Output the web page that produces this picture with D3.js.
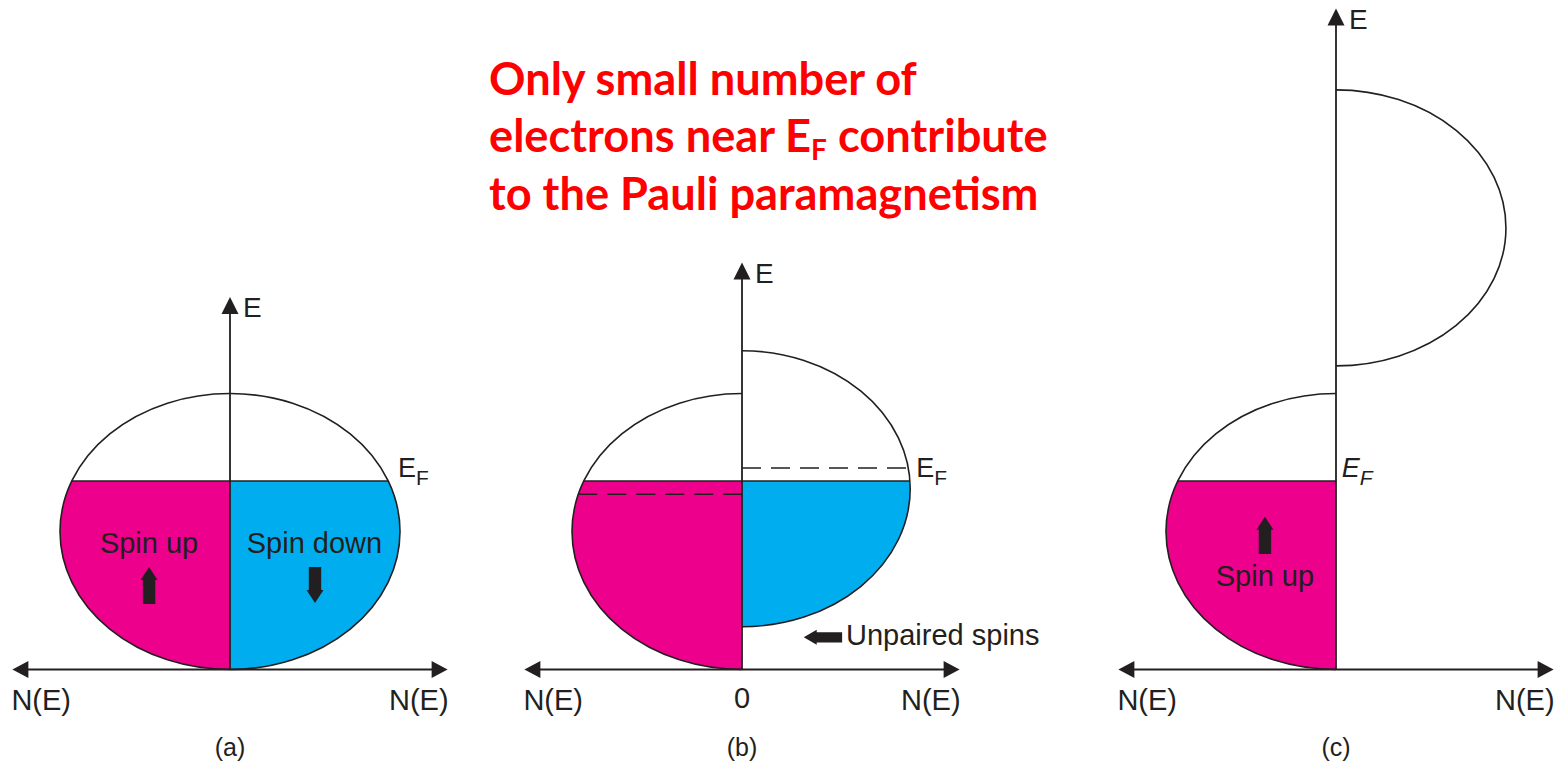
<!DOCTYPE html>
<html>
<head>
<meta charset="utf-8">
<script src="https://cdn.jsdelivr.net/npm/d3@7"></script>
<style>
  html, body { margin: 0; padding: 0; background: #ffffff; }
  svg { display: block; }
</style>
</head>
<body>
<script>
// ---------------- data (energy E and density N(E) in arbitrary units) ----------------
const panelLabels   = ["(a)", "(b)", "(c)"];
const fermiLevel    = [1.366, 1.366, 1.366];   // E_F
const upBandCenter  = [1.00, 1.00, 1.00];      // spin-up band centre energy
const downBandCenter= [1.00, 1.31, 3.20];      // spin-down band centre energy
const bandHalfWidth = [1.00, 1.00, 1.00];      // half of band energy span
const upBandPeak    = [1.00, 1.00, 1.00];      // max N(E) spin up
const downBandPeak  = [1.00, 0.99, 1.00];      // max N(E) spin down
const energyAxisTop = [2.70, 2.95, 4.79];
const dosAxisExtent = 1.28;
// shifted (unsplit) Fermi levels drawn dashed in panel (b)
const dashedUpLevel   = 1.27;
const dashedDownLevel = 1.46;

const titleLines = ["Only small number of", "electrons near E|F| contribute", "to the Pauli paramagnetism"];

// ---------------- layout ----------------
const W = 1561, H = 765;
const panelCenterX = [230, 742, 1336];
const unitX = 170, unitY = 138, baseY = 669.5;
const ink = "#231f20", magenta = "#ec008c", cyan = "#00aeef";
const labelFont = "'Liberation Sans', Arial, sans-serif";

const svg = d3.select("body").append("svg").attr("width", W).attr("height", H);
const defs = svg.append("defs");

const yScale = d3.scaleLinear().domain([0, 1]).range([baseY, baseY - unitY]);

function halfWidthAt(E, c, h, peak) {
  const t = (E - c) / h;
  return Math.abs(t) < 1 ? peak * Math.sqrt(1 - t * t) : 0;
}

function bandPath(x, side, c, h, peak, close) {
  const x0 = x(0), yT = yScale(c + h), yB = yScale(c - h);
  const rx = Math.abs(x(peak) - x(0)), ry = yScale(c - h) - yScale(c);
  const sweep = side > 0 ? 1 : 0;
  return `M${x0},${yT} A${rx},${ry} 0 0 ${sweep} ${x0},${yB}` + (close ? "Z" : "");
}

function blockArrow(dir, cx, cy, len) {
  const hw = 8.5, sw = 6.2, hl = 13;
  let pts;
  if (dir === "up") {
    const t = cy - len / 2, b = cy + len / 2;
    pts = [[cx, t], [cx + hw, t + hl], [cx + sw, t + hl], [cx + sw, b], [cx - sw, b], [cx - sw, t + hl], [cx - hw, t + hl]];
  } else if (dir === "down") {
    const t = cy - len / 2, b = cy + len / 2;
    pts = [[cx, b], [cx + hw, b - hl], [cx + sw, b - hl], [cx + sw, t], [cx - sw, t], [cx - sw, b - hl], [cx - hw, b - hl]];
  } else {
    const l = cx - len / 2, r = cx + len / 2;
    pts = [[l, cy], [l + hl, cy - hw + 1], [l + hl, cy - sw + 1], [r, cy - sw + 1], [r, cy + sw - 1], [l + hl, cy + sw - 1], [l + hl, cy + hw - 1]];
  }
  return "M" + pts.map(p => p.join(",")).join("L") + "Z";
}

panelLabels.forEach((lab, i) => {
  const cx = panelCenterX[i];
  const x = d3.scaleLinear().domain([-1, 1]).range([cx - unitX, cx + unitX]);
  const g = svg.append("g");
  const EF = fermiLevel[i];
  const h = bandHalfWidth[i];

  const clipId = "clip" + i;
  defs.append("clipPath").attr("id", clipId).append("rect")
    .attr("x", x(-dosAxisExtent)).attr("width", x(dosAxisExtent) - x(-dosAxisExtent))
    .attr("y", yScale(EF)).attr("height", yScale(0) - yScale(EF) + 2);

  const bands = [
    { side: -1, c: upBandCenter[i], peak: upBandPeak[i], fill: magenta },
    { side: 1, c: downBandCenter[i], peak: downBandPeak[i], fill: cyan }
  ];
  const xs = side => v => x(side * v);

  g.selectAll("path.fill").data(bands).join("path").attr("class", "fill")
    .attr("d", d => bandPath(xs(d.side), d.side, d.c, h, d.peak, true))
    .attr("fill", d => d.fill).attr("clip-path", `url(#${clipId})`);

  g.selectAll("path.outline").data(bands).join("path").attr("class", "outline")
    .attr("d", d => bandPath(xs(d.side), d.side, d.c, h, d.peak, false))
    .attr("fill", "none").attr("stroke", ink).attr("stroke-width", 1.6);

  const wl = halfWidthAt(EF, bands[0].c, h, bands[0].peak);
  const wr = halfWidthAt(EF, bands[1].c, h, bands[1].peak);
  g.append("line")
    .attr("x1", x(-wl)).attr("x2", x(wr))
    .attr("y1", yScale(EF)).attr("y2", yScale(EF))
    .attr("stroke", ink).attr("stroke-width", 1.6);

  if (i === 1) {
    const wdu = halfWidthAt(dashedUpLevel, bands[0].c, h, bands[0].peak);
    const wdd = halfWidthAt(dashedDownLevel, bands[1].c, h, bands[1].peak);
    g.append("line").attr("x1", x(-wdu)).attr("x2", x(0))
      .attr("y1", yScale(dashedUpLevel)).attr("y2", yScale(dashedUpLevel))
      .attr("stroke", ink).attr("stroke-width", 1.6).attr("stroke-dasharray", "19,10");
    g.append("line").attr("x1", x(0)).attr("x2", x(wdd))
      .attr("y1", yScale(dashedDownLevel)).attr("y2", yScale(dashedDownLevel))
      .attr("stroke", ink).attr("stroke-width", 1.6).attr("stroke-dasharray", "19,10");
  }

  const axL = x(-dosAxisExtent), axR = x(dosAxisExtent), ax0 = x(0);
  const yTop = yScale(energyAxisTop[i]), y0 = yScale(0);
  g.append("line").attr("x1", axL + 10).attr("x2", axR - 10).attr("y1", y0).attr("y2", y0)
    .attr("stroke", ink).attr("stroke-width", 2);
  g.append("line").attr("x1", ax0).attr("x2", ax0).attr("y1", y0).attr("y2", yTop + 10)
    .attr("stroke", ink).attr("stroke-width", 1.8);
  g.append("path").attr("fill", ink)
    .attr("d", `M${axL},${y0}L${axL + 16},${y0 - 8.5}L${axL + 16},${y0 + 8.5}Z`);
  g.append("path").attr("fill", ink)
    .attr("d", `M${axR},${y0}L${axR - 16},${y0 - 8.5}L${axR - 16},${y0 + 8.5}Z`);
  g.append("path").attr("fill", ink)
    .attr("d", `M${ax0},${yTop}L${ax0 - 8.5},${yTop + 17}L${ax0 + 8.5},${yTop + 17}Z`);

  const txt = (s, px, py, anchor, size) => g.append("text").attr("x", px).attr("y", py)
    .attr("text-anchor", anchor || "start").attr("font-family", labelFont)
    .attr("font-size", size || 29).attr("fill", ink).text(s);
  txt("E", ax0 + 13, yTop + 20.5, "start", 28);
  txt("N(E)", axL - 1, y0 + 40.5, "start");
  txt("N(E)", axR + 1, y0 + 40.5, "end");
  txt(lab, ax0, y0 + 86, "middle", 25);
  if (i === 1) txt("0", ax0, y0 + 38.5, "middle");

  const efX = [x(1.0) - 2, x(1.037) - 2, x(0.04) - 1][i];
  const efT = g.append("text").attr("x", efX).attr("y", yScale(EF) - 3.5)
    .attr("font-family", labelFont).attr("font-size", 27).attr("fill", ink)
    .attr("font-style", i === 2 ? "italic" : "normal");
  efT.append("tspan").text("E");
  efT.append("tspan").attr("dy", 8).attr("font-size", 21).text("F");

  if (i === 0) {
    txt("Spin up", x(-0.476), yScale(0.844), "middle");
    txt("Spin down", x(0.497), yScale(0.844), "middle");
    g.append("path").attr("fill", ink).attr("d", blockArrow("up", x(-0.476), (yScale(0.743) + yScale(0.475)) / 2, yScale(0.475) - yScale(0.743)));
    g.append("path").attr("fill", ink).attr("d", blockArrow("down", x(0.50), (yScale(0.743) + yScale(0.482)) / 2, yScale(0.482) - yScale(0.743)));
  } else if (i === 1) {
    g.append("path").attr("fill", ink).attr("d", blockArrow("left", (x(0.363) + x(0.589)) / 2, yScale(0.233), x(0.589) - x(0.363)));
    txt("Unpaired spins", x(0.612), yScale(0.178), "start");
  } else {
    txt("Spin up", x(-0.418), yScale(0.605), "middle");
    g.append("path").attr("fill", ink).attr("d", blockArrow("up", x(-0.418), (yScale(1.107) + yScale(0.837)) / 2, yScale(0.837) - yScale(1.107)));
  }
});

// ---------------- title ----------------
const title = svg.append("g").attr("font-family", "Lato, 'Open Sans', sans-serif")
  .attr("font-weight", "bold").attr("fill", "#ff0000");
const baseSize = 40;
const subRatio = 0.62, subShift = 8;
const titleBaselines = [94.5, 152, 209.5];
const titleNodes = titleLines.map((s, k) => {
  const t = title.append("text").attr("x", 489).attr("y", titleBaselines[k]).attr("font-size", baseSize);
  const parts = s.split("|");
  if (parts.length === 3) {
    t.append("tspan").text(parts[0]);
    t.append("tspan").attr("class", "sub").attr("dy", subShift).attr("font-size", baseSize * subRatio).text(parts[1]);
    t.append("tspan").attr("dy", -subShift).text(parts[2]);
  } else {
    t.text(s);
  }
  return t;
});
const w0 = titleNodes[0].node().getComputedTextLength();
const scaleF = 428 / w0;
titleNodes.forEach(t => {
  t.attr("font-size", baseSize * scaleF);
  t.selectAll("tspan.sub").attr("font-size", baseSize * scaleF * subRatio);
});
</script>
</body>
</html>
